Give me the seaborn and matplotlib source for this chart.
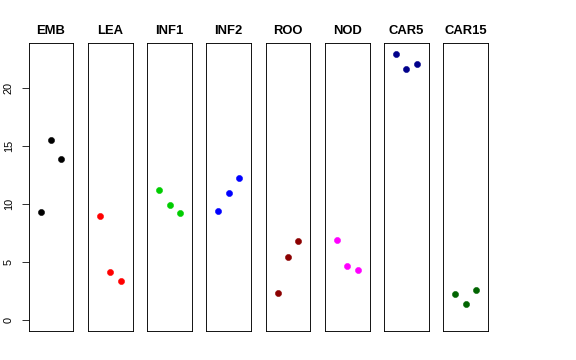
import pandas as pd
import numpy as np
import matplotlib
matplotlib.use("Agg")
import matplotlib.pyplot as plt
import seaborn as sns

# tissue groups and their three replicate values
tissues = ["EMB", "LEA", "INF1", "INF2", "ROO", "NOD", "CAR5", "CAR15"]
emb = [9.34, 15.5, 13.87]
lea = [8.94, 4.15, 3.4]
inf1 = [11.2, 9.91, 9.25]
inf2 = [9.42, 10.95, 12.2]
roo = [2.37, 5.44, 6.79]
nod = [6.88, 4.7, 4.3]
car5 = [22.92, 21.6, 22.0]
car15 = [2.26, 1.4, 2.63]
replicates = [1, 2, 3]
colors = ["black", "red", "#00CD00", "blue", "#8B0000", "magenta", "#00008B", "#006400"]

values = [emb, lea, inf1, inf2, roo, nod, car5, car15]
df = pd.DataFrame({
    "tissue": np.repeat(tissues, len(replicates)),
    "rep": replicates * len(tissues),
    "value": np.concatenate(values),
})

sns.set_style("white")
plt.rcParams["font.family"] = ["Liberation Sans", "DejaVu Sans"]
plt.rcParams["text.color"] = "black"
plt.rcParams["ytick.color"] = "black"
plt.rcParams["ytick.labelcolor"] = "black"

fig = plt.figure(figsize=(8, 5), dpi=72)

# R-style 4% axis extension
ylo, yhi = 0, df["value"].max()
yext = 0.04 * (yhi - ylo)
xlo, xhi = 0, 4
xext = 0.04 * (xhi - xlo)

W, H = 576, 360
left0, step, width = 28.7, 59.23, 44.7
top, bottom = 43, 331

for i, (name, col) in enumerate(zip(tissues, colors)):
    ax = fig.add_axes([(left0 + i * step) / W, 1 - bottom / H,
                       width / W, (bottom - top) / H])
    sub = df[df["tissue"] == name]
    sns.scatterplot(data=sub, x="rep", y="value", color=col, s=38,
                    edgecolor=col, linewidth=0.5, ax=ax, legend=False)
    ax.set_xlim(xlo - xext, xhi + xext)
    ax.set_ylim(ylo - yext, yhi + yext)
    ax.set_xticks([])
    ax.set_xlabel("")
    ax.set_ylabel("")
    ax.set_title(name, fontsize=13, fontweight="bold", pad=9, color="black")
    for sp in ax.spines.values():
        sp.set_visible(True)
        sp.set_color("black")
        sp.set_linewidth(0.9)
    if i == 0:
        ax.set_yticks([0, 5, 10, 15, 20])
        ax.tick_params(axis="y", left=True, length=7, width=0.8, pad=8,
                       labelsize=11, colors="black")
        for lab in ax.get_yticklabels():
            lab.set_rotation(90)
            lab.set_va("center")
    else:
        ax.set_yticks([])

fig.savefig("out.png", dpi=72)
plt.close(fig)
